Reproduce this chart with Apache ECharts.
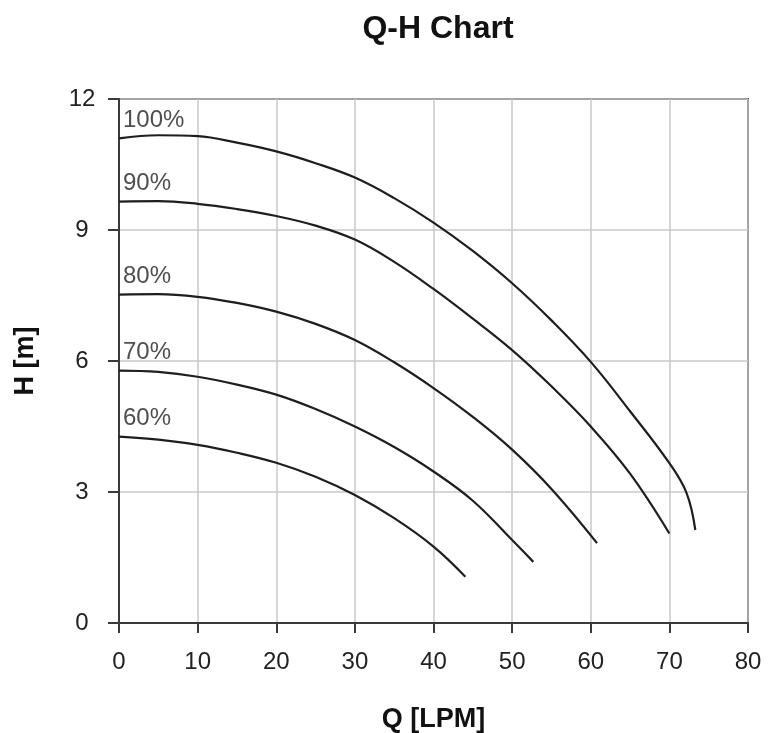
<!DOCTYPE html>
<html>
<head>
<meta charset="utf-8">
<script src="https://cdn.jsdelivr.net/npm/echarts@6/dist/echarts.min.js"></script>
<style>html,body{margin:0;padding:0;background:#fff}#c{width:768px;height:733px}</style>
</head>
<body>
<div id="c"></div>
<script>
var curveNames = ['100%', '90%', '80%', '70%', '60%'];
var q100 = [0, 5, 10, 15, 20, 25, 30, 35, 40, 45, 50, 55, 60, 65, 70, 72.2, 73.3];
var h100 = [11.1, 11.17, 11.15, 11.0, 10.8, 10.53, 10.2, 9.73, 9.17, 8.52, 7.78, 6.93, 5.98, 4.85, 3.66, 2.97, 2.13];
var q90 = [0, 5, 10, 15, 20, 25, 30, 35, 40, 45, 50, 55, 60, 65, 70];
var h90 = [9.65, 9.66, 9.6, 9.48, 9.32, 9.1, 8.78, 8.27, 7.65, 6.97, 6.25, 5.42, 4.5, 3.42, 2.05];
var q80 = [0, 5, 10, 15, 20, 25, 30, 35, 40, 45, 50, 55, 60.8];
var h80 = [7.52, 7.53, 7.47, 7.33, 7.13, 6.85, 6.48, 5.97, 5.38, 4.72, 3.97, 3.07, 1.83];
var q70 = [0, 5, 10, 15, 20, 25, 30, 35, 40, 45, 50, 52.7];
var h70 = [5.78, 5.75, 5.64, 5.46, 5.23, 4.9, 4.5, 4.03, 3.47, 2.8, 1.9, 1.4];
var q60 = [0, 5, 10, 15, 20, 25, 30, 35, 40, 44.05];
var h60 = [4.27, 4.2, 4.08, 3.9, 3.67, 3.35, 2.93, 2.4, 1.75, 1.06];
var xTicks = [0, 10, 20, 30, 40, 50, 60, 70, 80];
var yTicks = [0, 3, 6, 9, 12];

var qs = [q100, q90, q80, q70, q60];
var hs = [h100, h90, h80, h70, h60];
var FONT = 'Liberation Sans, Arial, sans-serif';

function pairs(q, h) { return q.map(function (v, i) { return [v, h[i]]; }); }

var series = [];
qs.forEach(function (q, i) {
  series.push({
    type: 'line', name: curveNames[i], data: pairs(q, hs[i]),
    smooth: 0.4, showSymbol: false, symbol: 'none', silent: true,
    lineStyle: { color: '#1e1e1e', width: 2.2 }
  });
});
series.push({
  type: 'scatter', symbolSize: 0, silent: true,
  data: qs.map(function (q, i) { return { value: [q[0], hs[i][0]], name: curveNames[i] }; }),
  label: {
    show: true, position: 'right', distance: 5, offset: [-1, -18],
    formatter: function (p) { return p.name; },
    fontFamily: FONT, fontSize: 24, color: '#222'
  }
});

var chart = echarts.init(document.getElementById('c'));
chart.setOption({
  animation: false,
  backgroundColor: '#fff',
  title: {
    text: 'Q-H Chart', left: 433, top: 8, textAlign: 'center',
    textStyle: { fontFamily: FONT, fontSize: 32, fontWeight: 'bold', color: '#111' }
  },
  grid: { left: 119, right: 20, top: 99, bottom: 110, outerBoundsMode: 'none', containLabel: false, show: true, borderColor: '#3a3a3a', borderWidth: 2, backgroundColor: 'transparent' },
  xAxis: {
    type: 'value', min: xTicks[0], max: xTicks[xTicks.length - 1], interval: 10,
    name: 'Q [LPM]', nameLocation: 'middle', nameGap: 83,
    nameTextStyle: { fontFamily: FONT, fontSize: 27, fontWeight: 'bold', color: '#111' },
    axisLine: { show: true, lineStyle: { color: '#3a3a3a', width: 2 } },
    axisTick: { show: true, inside: false, length: 10, lineStyle: { color: '#3a3a3a', width: 2 } },
    axisLabel: { margin: 27, fontFamily: FONT, fontSize: 24, color: '#222' },
    splitLine: { show: true, lineStyle: { color: '#c8c8c8', width: 1.5 } }
  },
  yAxis: {
    type: 'value', min: yTicks[0], max: yTicks[yTicks.length - 1], interval: 3,
    name: 'H [m]', nameLocation: 'middle', nameGap: 80, nameRotate: 90,
    nameTextStyle: { fontFamily: FONT, fontSize: 27, fontWeight: 'bold', color: '#111' },
    axisLine: { show: true, lineStyle: { color: '#3a3a3a', width: 2 } },
    axisTick: { show: true, length: 11, lineStyle: { color: '#3a3a3a', width: 2 } },
    axisLabel: { margin: 37, align: 'center', fontFamily: FONT, fontSize: 24, color: '#222' },
    splitLine: { show: true, lineStyle: { color: '#c8c8c8', width: 1.5 } }
  },
  series: series
});
</script>
</body>
</html>
